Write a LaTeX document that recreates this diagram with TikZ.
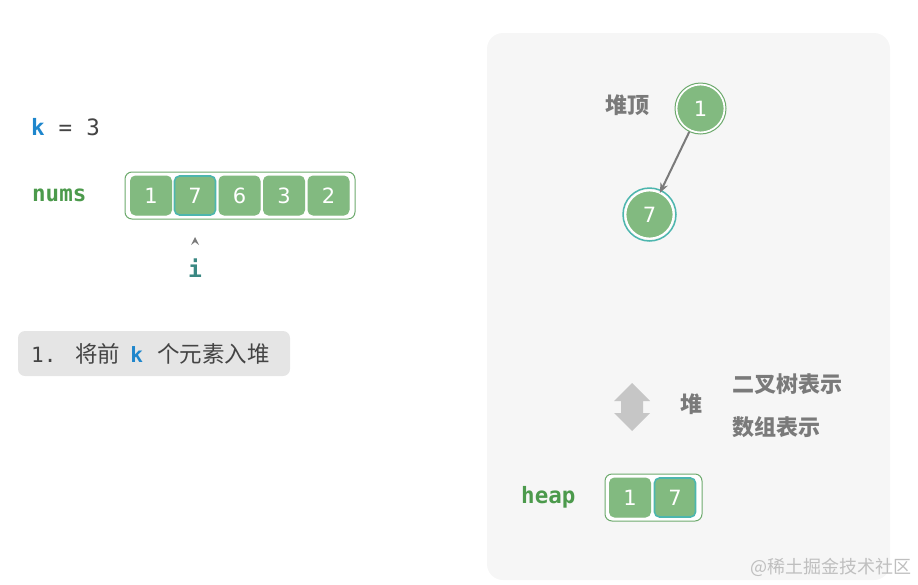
\documentclass[tikz,border=0pt]{standalone}
\usepackage{fontspec}
\setmainfont{DejaVu Sans}
\newfontfamily\cjk{Noto Sans CJK SC}
\newfontfamily\monof{DejaVu Sans Mono}
\usetikzlibrary{arrows.meta}
\definecolor{cellg}{HTML}{82BA80}
\definecolor{edgeg}{HTML}{6DAA6D}
\definecolor{teal1}{HTML}{4DB6AE}
\definecolor{txtg}{HTML}{4C9A4C}
\definecolor{kblue}{HTML}{1E86CC}
\definecolor{dgray}{HTML}{444444}
\definecolor{mgray}{HTML}{7A7A7A}
\definecolor{panel}{HTML}{F6F6F6}
\definecolor{labbg}{HTML}{E5E5E5}
\tikzset{
  cell/.style={rectangle, rounded corners=5pt, fill=cellg, draw=cellg, line width=1pt,
    minimum width=41pt, minimum height=39pt, text=white, font=\fontsize{21}{21}\selectfont},
  hcell/.style={cell, draw=teal1, line width=1.6pt},
  outerbox/.style={rounded corners=7pt, draw=edgeg, line width=1pt, fill=white},
  codelab/.style={font=\monof\bfseries\fontsize{22.5}{22.5}\selectfont, text=txtg},
  cjklab/.style={font=\cjk\bfseries\fontsize{22}{22}\selectfont, text=mgray},
  tnode/.style={circle, fill=cellg, draw=white, line width=1.8pt, minimum size=48pt,
    text=white, font=\fontsize{21}{21}\selectfont, inner sep=0pt},
}
\begin{document}
\begin{tikzpicture}[x=1pt,y=-1pt]
\useasboundingbox (0,0) rectangle (918,584);
% right panel
\fill[panel, rounded corners=16pt] (487,33) rectangle (890,580);
% k = 3
\node[anchor=west, inner sep=0pt, text=dgray, font=\monof\fontsize{22.5}{22.5}\selectfont] (kval) at (31,127) {\textcolor{kblue}{\bfseries k}\hspace{14pt}=\hspace{14pt}3};
% nums
\node[codelab, anchor=west, inner sep=0pt] (nums) at (32,195) {nums};
\draw[outerbox] (125,172) rectangle (355,219);
\node[cell] (c1) at (151,195.5) {1};
\node[hcell] (c2) at (195,195.5) {7};
\node[cell] (c3) at (239.5,195.5) {6};
\node[cell] (c4) at (284,195.5) {3};
\node[cell] (c5) at (328.5,195.5) {2};
% pointer
\coordinate (ptr) at (195,237);
\fill[mgray] (ptr) -- ++(4,8) -- ++(-4,-3) -- ++(-4,3) -- cycle;
\node[inner sep=0pt, text=teal1!75!black, font=\monof\bfseries\fontsize{23}{23}\selectfont] (iv) at (195,268) {i};
% step label
\fill[labbg, rounded corners=7pt] (18,331) rectangle (290,376);
\node[anchor=west, inner sep=0pt, text=dgray] (step) at (31,354) {\monof\fontsize{21}{21}\selectfont 1.\hspace{19pt}{\cjk\fontsize{22.5}{22.5}\selectfont 将前}\hspace{10pt}{\bfseries\color{kblue}k}\hspace{14pt}{\cjk\fontsize{22.5}{22.5}\selectfont 个元素入堆}};
% tree
\node[tnode] (n1) at (700.5,108.5) {1};
\draw[edgeg, line width=1pt] (n1.center) circle (25.5);
\node[tnode] (n7) at (649.5,214.5) {7};
\draw[teal1, line width=1.5pt] (n7.center) circle (26.5);
\draw[-{Stealth[length=10pt,width=8pt]}, line width=2pt, mgray, shorten <=1pt, shorten >=-1pt] (n1) -- (n7);
\node[cjklab] (top) at (627,105) {堆顶};
% double arrow
\coordinate (darr) at (632,407);
\fill[gray!45] (632,383) -- (650,401) -- (643,401) -- (643,413) -- (650,413) -- (632,431)
  -- (614,413) -- (621,413) -- (621,401) -- (614,401) -- cycle;
\node[cjklab] (heapc) at (691,404) {堆};
\node[cjklab, anchor=west] (bt) at (729,384) {二叉树表示};
\node[cjklab, anchor=west] (ar) at (729,427) {数组表示};
% heap
\node[codelab, anchor=west, inner sep=0pt] (heapl) at (521,497) {heap};
\draw[outerbox] (605,474) rectangle (702,521);
\node[cell] (h1) at (630,497.5) {1};
\node[hcell] (h2) at (675,497.5) {7};
% watermark
\node[anchor=east, text=gray!50, font=\cjk\fontsize{18}{18}\selectfont, inner sep=0pt] (wm) at (912,567) {@稀土掘金技术社区};
\end{tikzpicture}
\end{document}
